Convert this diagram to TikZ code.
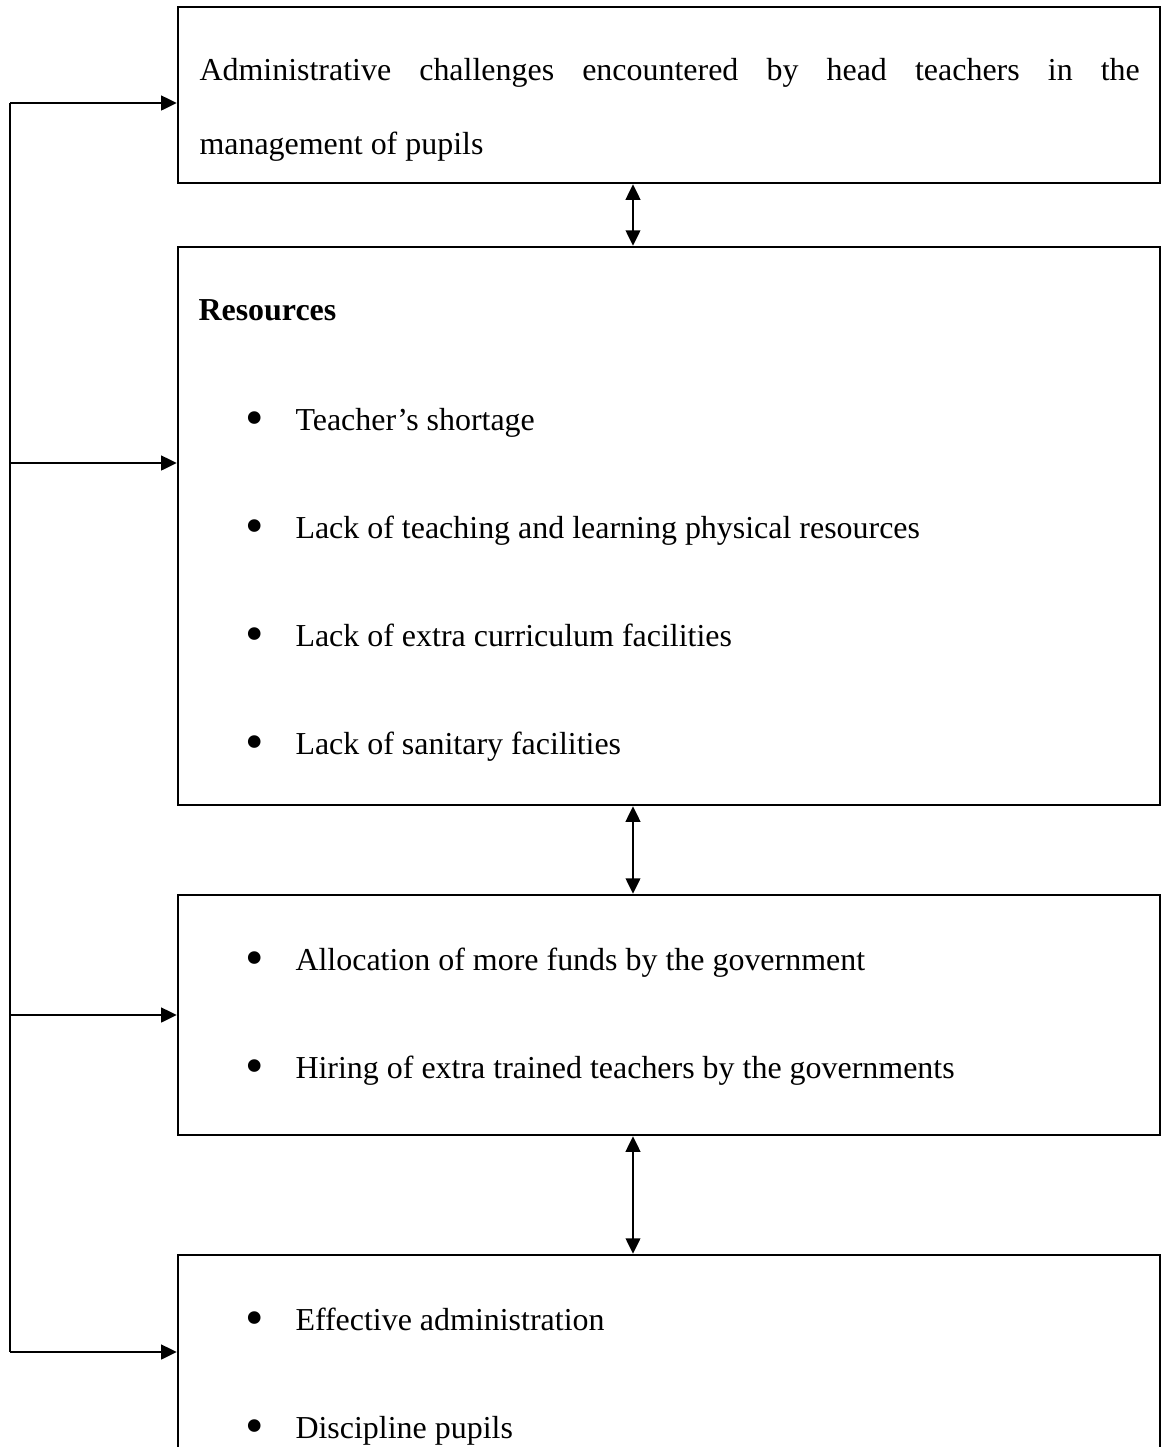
\documentclass[tikz,border=0pt]{standalone}
\usepackage{fontspec}
\setmainfont{Liberation Serif}
\usetikzlibrary{arrows.meta,fit}
\hyphenpenalty=10000
\newcommand{\itemdot}{\makebox[19.25pt][l]{\raisebox{-2.3pt}{\scalebox{1.65}{\textbullet}}}}

\begin{document}
\begin{tikzpicture}[
    x=0.385pt, y=-0.385pt,
    box/.style={rectangle, draw, line width=0.9pt, inner sep=0pt},
    txt/.style={anchor=base west, inner sep=0pt, font=\fontsize{12.3}{28.5}\selectfont},
    link/.style={line width=0.9pt, -{Triangle[length=6pt,width=5.6pt]}},
    both/.style={line width=0.9pt, {Triangle[length=6pt,width=5.6pt]}-{Triangle[length=6pt,width=5.6pt]}}
]
\clip (0,0) rectangle (1162,1447);

% Boxes
\node[box, fit={(178,7) (1160,183)}] (chal) {};
\node[box, fit={(178,247) (1160,805)}] (res) {};
\node[box, fit={(178,895) (1160,1135)}] (fund) {};
\node[box, fit={(178,1255) (1160,1520)}] (admin) {};

% Texts
\node[txt, anchor=north west, align=left] (chaltext) at (199,57.7)
  {\makebox[362pt][s]{Administrative challenges encountered by head teachers in the}\\
   management of pupils};
\node[txt] (restitle) at (198,320) {\textbf{Resources}};
\node[txt] (r1) at (245,430) {\itemdot Teacher’s shortage};
\node[txt] (r2) at (245,538) {\itemdot Lack of teaching and learning physical resources};
\node[txt] (r3) at (245,646) {\itemdot Lack of extra curriculum facilities};
\node[txt] (r4) at (245,754) {\itemdot Lack of sanitary facilities};
\node[txt] (f1) at (245,970) {\itemdot Allocation of more funds by the government};
\node[txt] (f2) at (245,1078) {\itemdot Hiring of extra trained teachers by the governments};
\node[txt] (a1) at (245,1330) {\itemdot Effective administration};
\node[txt] (a2) at (245,1438) {\itemdot Discipline pupils};

% Feedback spine on the left
\coordinate (j1) at (10,103);
\coordinate (j2) at (10,463);
\coordinate (j3) at (10,1015);
\coordinate (j4) at (10,1352);
\draw[line width=0.9pt] (j1) -- (j4);
\draw[link] (j1) -- (j1 -| chal.west);
\draw[link] (j2) -- (j2 -| res.west);
\draw[link] (j3) -- (j3 -| fund.west);
\draw[link] (j4) -- (j4 -| admin.west);

% Two-way arrows between boxes
\coordinate (ax) at (633,0);
\draw[both] (ax |- chal.south) -- (ax |- res.north);
\draw[both] (ax |- res.south) -- (ax |- fund.north);
\draw[both] (ax |- fund.south) -- (ax |- admin.north);
\end{tikzpicture}
\end{document}
